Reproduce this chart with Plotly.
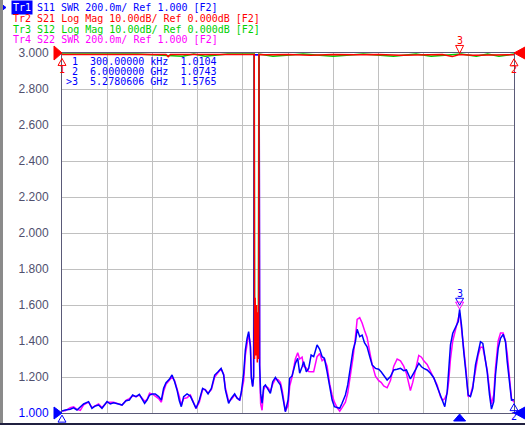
import plotly.graph_objects as go

# ---------------- data ----------------
freq_ghz = [0.0003, 0.044, 0.110, 0.154, 0.199, 0.243, 0.287, 0.353, 0.398, 0.442,
            0.486, 0.531, 0.598, 0.641, 0.685, 0.752, 0.797, 0.850, 0.894, 0.938,
            0.983, 1.027, 1.062, 1.097, 1.129, 1.163, 1.203, 1.239, 1.283, 1.319,
            1.349, 1.381, 1.425, 1.461, 1.495, 1.527, 1.558, 1.584, 1.615, 1.660,
            1.704, 1.734, 1.780, 1.823, 1.867, 1.903, 1.939, 1.983, 2.027, 2.072,
            2.112, 2.146, 2.169, 2.212, 2.248, 2.292, 2.324, 2.359, 2.381, 2.412,
            2.434, 2.457, 2.478, 2.501, 2.514, 2.531, 2.544, 2.551, 2.617, 2.624,
            2.637, 2.656, 2.677, 2.700, 2.736, 2.766, 2.797, 2.833, 2.868, 2.899,
            2.922, 2.948, 2.965, 3.001, 3.023, 3.054, 3.089, 3.098, 3.129, 3.155,
            3.187, 3.208, 3.244, 3.275, 3.307, 3.341, 3.386, 3.421, 3.453, 3.483,
            3.519, 3.554, 3.586, 3.616, 3.652, 3.687, 3.718, 3.762, 3.793, 3.829,
            3.864, 3.895, 3.918, 3.952, 3.984, 4.015, 4.050, 4.085, 4.117, 4.161,
            4.204, 4.236, 4.271, 4.316, 4.360, 4.404, 4.449, 4.493, 4.536, 4.572,
            4.625, 4.656, 4.692, 4.736, 4.772, 4.802, 4.847, 4.891, 4.935, 4.980,
            5.024, 5.054, 5.081, 5.113, 5.134, 5.157, 5.187, 5.223, 5.259, 5.2780606,
            5.303, 5.333, 5.365, 5.392, 5.422, 5.453, 5.489, 5.524, 5.555, 5.586,
            5.621, 5.644, 5.675, 5.701, 5.731, 5.754, 5.790, 5.821, 5.856, 5.887,
            5.910, 5.940, 5.967, 6.000]

s11_swr = [1.0104, 1.017, 1.021, 1.029, 1.017, 1.032, 1.050, 1.063, 1.026, 1.039,
           1.044, 1.026, 1.063, 1.050, 1.057, 1.050, 1.044, 1.068, 1.072, 1.100,
           1.091, 1.104, 1.082, 1.054, 1.072, 1.100, 1.106, 1.106, 1.091, 1.072,
           1.137, 1.168, 1.187, 1.211, 1.174, 1.128, 1.068, 1.035, 1.091, 1.106,
           1.094, 1.063, 1.026, 1.072, 1.137, 1.128, 1.106, 1.137, 1.211, 1.229,
           1.248, 1.211, 1.128, 1.054, 1.082, 1.106, 1.082, 1.072, 1.118, 1.221,
           1.350, 1.415, 1.452, 1.368, 1.193, 1.146, 1.202, 2.990, 2.990, 1.267,
           1.109, 1.054, 1.146, 1.156, 1.128, 1.109, 1.174, 1.198, 1.174, 1.156,
           1.109, 1.044, 1.007, 1.072, 1.193, 1.206, 1.267, 1.276, 1.304, 1.221,
           1.257, 1.285, 1.229, 1.248, 1.322, 1.313, 1.378, 1.354, 1.313, 1.304,
           1.229, 1.137, 1.072, 1.035, 1.032, 1.026, 1.054, 1.100, 1.156, 1.257,
           1.350, 1.396, 1.465, 1.424, 1.433, 1.391, 1.368, 1.313, 1.267, 1.248,
           1.243, 1.229, 1.211, 1.183, 1.202, 1.239, 1.243, 1.248, 1.235, 1.239,
           1.189, 1.211, 1.239, 1.276, 1.257, 1.248, 1.239, 1.221, 1.196, 1.146,
           1.100, 1.072, 1.035, 1.118, 1.248, 1.378, 1.443, 1.471, 1.507, 1.5765,
           1.489, 1.341, 1.211, 1.100, 1.091, 1.137, 1.267, 1.341, 1.396, 1.387,
           1.304, 1.229, 1.100, 1.022, 1.063, 1.211, 1.359, 1.415, 1.437, 1.396,
           1.285, 1.156, 1.072, 1.0743]

s22_swr = [1.012, 1.012, 1.030, 1.035, 1.020, 1.015, 1.045, 1.060, 1.030, 1.040,
           1.050, 1.030, 1.060, 1.060, 1.060, 1.050, 1.045, 1.070, 1.080, 1.095,
           1.090, 1.100, 1.085, 1.065, 1.075, 1.110, 1.105, 1.095, 1.080, 1.060,
           1.120, 1.160, 1.185, 1.200, 1.180, 1.140, 1.090, 1.045, 1.080, 1.085,
           1.100, 1.070, 1.025, 1.060, 1.130, 1.130, 1.110, 1.130, 1.200, 1.225,
           1.245, 1.215, 1.140, 1.065, 1.075, 1.100, 1.085, 1.070, 1.110, 1.180,
           1.320, 1.400, 1.440, 1.380, 1.200, 1.150, 1.200, 2.990, 2.990, 1.250,
           1.050, 1.015, 1.130, 1.150, 1.140, 1.120, 1.160, 1.190, 1.185, 1.170,
           1.130, 1.060, 1.010, 1.040, 1.150, 1.200, 1.280, 1.300, 1.335, 1.300,
           1.310, 1.260, 1.250, 1.230, 1.229, 1.229, 1.313, 1.330, 1.290, 1.300,
           1.260, 1.160, 1.100, 1.060, 1.030, 1.010, 1.030, 1.060, 1.110, 1.200,
           1.310, 1.420, 1.520, 1.530, 1.500, 1.460, 1.420, 1.340, 1.270, 1.205,
           1.180, 1.170, 1.150, 1.140, 1.180, 1.260, 1.300, 1.290, 1.260, 1.220,
           1.125, 1.170, 1.240, 1.320, 1.310, 1.290, 1.270, 1.230, 1.190, 1.155,
           1.090, 1.070, 1.080, 1.110, 1.180, 1.300, 1.400, 1.460, 1.520, 1.555,
           1.470, 1.370, 1.230, 1.090, 1.100, 1.150, 1.230, 1.320, 1.365, 1.365,
           1.290, 1.240, 1.130, 1.050, 1.100, 1.250, 1.400, 1.444, 1.444, 1.400,
           1.330, 1.200, 1.080, 1.060]

s21_freq = [0.0003, 0.30, 0.60, 0.90, 1.20, 1.38, 1.41, 1.44, 1.80, 2.10,
            2.40, 2.552, 2.556, 2.564, 2.573, 2.583, 2.593, 2.602, 2.610, 2.614,
            2.70, 3.00, 3.30, 3.60, 3.90, 4.20, 4.50, 4.80, 5.05, 5.18,
            5.278, 5.45, 5.70, 6.00]
s21_db = [-0.4, -0.4, -0.4, -0.4, -0.4, -0.4, -1.0, -0.4, -0.4, -0.4,
          -0.4, -0.4, -85.0, -68.0, -84.0, -70.0, -86.0, -72.0, -85.0, -0.4,
          -0.5, -0.4, -0.6, -0.4, -0.5, -0.4, -0.6, -0.5, -0.4, -1.0,
          -0.4, -0.6, -0.5, -0.5]

s12_freq = [0.0003, 0.50, 1.00, 1.60, 1.75, 1.90, 2.20, 2.45, 2.552, 2.557,
            2.562, 2.569, 2.578, 2.589, 2.598, 2.607, 2.613, 2.80, 3.20, 3.60,
            4.00, 4.40, 4.70, 4.90, 5.30, 5.50, 5.65, 5.80, 5.95, 6.00]
s12_db = [-0.3, -0.3, -0.3, -0.9, -0.3, -0.9, -0.3, -0.3, -0.3, -76.0,
          -80.0, -75.0, -81.0, -77.0, -82.0, -78.0, -0.3, -0.9, -0.3, -0.9,
          -0.3, -0.9, -0.3, -0.9, -0.3, -0.9, -0.3, -0.9, -0.3, -0.3]

marker_freq = [0.0003, 6.0, 5.2780606]          # GHz
marker_s11 = [1.0104, 1.0743, 1.5765]
marker_s21 = [-0.4, -0.5, -0.4]
marker_s22_3 = 1.555

swr_ticks = [1.0, 1.2, 1.4, 1.6, 1.8, 2.0, 2.2, 2.4, 2.6, 2.8, 3.0]

trace_ids = ["Tr1", "Tr2", "Tr3", "Tr4"]
trace_params = ["S11", "S21", "S12", "S22"]
trace_formats = ["SWR", "Log Mag", "Log Mag", "SWR"]
trace_scales = ["200.0m/", "10.00dB/", "10.00dB/", "200.0m/"]
trace_refs = ["Ref 1.000", "Ref 0.000dB", "Ref 0.000dB", "Ref 1.000"]

# ---------------- style ----------------
BLUE, RED, GREEN, MAG = "#0000ff", "#ff0000", "#00d000", "#ff00ff"
trace_colors = [BLUE, RED, GREEN, MAG]
GRID = "#c0c0c0"
AXIS = "#5a5a78"
LBL = "#50506e"
MONO = "DejaVu Sans Mono"

X0, X1 = 0.0003, 6.0
Y0, Y1 = 1.0, 3.0
D0, D1 = -100.0, 0.0

L, T, W, H = 62, 53, 452, 360
def px(x):
    return (x - L) / W
def py(y):
    return (T + H - y) / H
def fx(f):
    return (f - X0) / (X1 - X0)
def fy(v):
    return (v - Y0) / (Y1 - Y0)
def fd(d):
    return (d - D0) / (D1 - D0)

fig = go.Figure()
fig.add_trace(go.Scatter(x=freq_ghz, y=s22_swr, mode="lines",
                         line=dict(color=MAG, width=1.5)))
fig.add_trace(go.Scatter(x=freq_ghz, y=s11_swr, mode="lines",
                         line=dict(color=BLUE, width=1.5)))
fig.add_trace(go.Scatter(x=s12_freq, y=s12_db, yaxis="y2", mode="lines",
                         line=dict(color=GREEN, width=1.5)))
fig.add_trace(go.Scatter(x=s21_freq, y=s21_db, yaxis="y2", mode="lines",
                         line=dict(color=RED, width=1.5)))

grid_x = [X0 + i * (X1 - X0) / 10 for i in range(11)]
tick_text = []
for v in swr_ticks:
    s = f"{v:.3f}"
    if v == Y0:
        s = f"<span style='color:{BLUE}'>{s}</span>"
    tick_text.append(s)

fig.update_layout(
    width=525, height=425, autosize=False,
    margin=dict(l=L, r=525 - L - W, t=T, b=425 - T - H, pad=0, autoexpand=False),
    paper_bgcolor="white", plot_bgcolor="white",
    showlegend=False,
    xaxis=dict(range=[X0, X1], tickvals=grid_x, showticklabels=False,
               showgrid=True, gridcolor=GRID, gridwidth=1, zeroline=False,
               showline=True, mirror=True, linecolor=AXIS, linewidth=1, ticks="",
               automargin=False),
    yaxis=dict(range=[Y0, Y1], tickvals=swr_ticks, ticktext=tick_text,
               showgrid=True, gridcolor=GRID, gridwidth=1, zeroline=False,
               showline=True, mirror=True, linecolor=AXIS, linewidth=1, ticks="",
               tickfont=dict(family="Liberation Sans", size=12, color=LBL),
               ticklabelstandoff=10, automargin=False),
    yaxis2=dict(range=[D0, D1], overlaying="y", side="right", visible=False,
                automargin=False),
)

shapes = []
annots = []

def tri_abs(pts, color, fill=True):
    path = "M " + " L ".join(f"{px(a):.5f},{py(b):.5f}" for a, b in pts) + " Z"
    shapes.append(dict(type="path", xref="paper", yref="paper", path=path,
                       line=dict(color=color, width=1),
                       fillcolor=color if fill else "rgba(0,0,0,0)"))

def tri_at(xa, ya, pts, color, fill=False):
    path = "M " + " L ".join(f"{a},{b}" for a, b in pts) + " Z"
    shapes.append(dict(type="path", xref="paper", yref="paper",
                       xsizemode="pixel", ysizemode="pixel",
                       xanchor=xa, yanchor=ya, path=path,
                       line=dict(color=color, width=1),
                       fillcolor=color if fill else "rgba(0,0,0,0)"))

def label_at(xa, ya, text, color, yshift):
    annots.append(dict(xref="paper", yref="paper", x=xa, y=ya, text=text,
                       showarrow=False, yshift=yshift, xanchor="center",
                       yanchor="middle",
                       font=dict(family=MONO, size=10, color=color)))

DOWN = [(-4, 11), (4, 11), (0, 4)]      # open triangle above point, tip down
UP = [(-4, -11), (4, -11), (0, -4)]     # open triangle below point, tip up

# Tr1 markers
tri_at(fx(marker_freq[2]), fy(marker_s11[2]), DOWN, BLUE)
label_at(fx(marker_freq[2]), fy(marker_s11[2]), "3", BLUE, 16)
tri_at(fx(marker_freq[1]), fy(marker_s11[1]), UP, BLUE)
label_at(fx(marker_freq[1]), fy(marker_s11[1]), "2", BLUE, -17)
tri_at(fx(marker_freq[0]), fy(marker_s11[0]), UP, BLUE)
# Tr4 marker 3
tri_at(fx(marker_freq[2]), fy(marker_s22_3), DOWN, MAG)
# Tr2 markers
tri_at(fx(marker_freq[2]), fd(marker_s21[2]), [(-4, 9), (4, 9), (0, 1)], RED)
label_at(fx(marker_freq[2]), fd(marker_s21[2]), "3", RED, 14)
tri_at(fx(marker_freq[0]), fd(marker_s21[0]), UP, RED)
label_at(fx(marker_freq[0]), fd(marker_s21[0]), "1", RED, -15)
tri_at(fx(marker_freq[1]), fd(marker_s21[1]), UP, RED)
label_at(fx(marker_freq[1]), fd(marker_s21[1]), "2", RED, -15)

# reference-position indicators
tri_at(0, fd(0.0), [(-8, 7), (-8, -7), (0, 0)], RED, True)
tri_at(0, fy(Y0), [(-8, 6), (-8, -6), (0, 0)], BLUE, True)
tri_at(1, fd(0.0), [(11, 6), (11, -6), (0, 0)], RED, True)
tri_at(1, fy(Y0), [(11, 6), (11, -6), (0, 0)], BLUE, True)
# active marker stimulus indicator
tri_at(fx(marker_freq[2]), 0, [(-6, -8), (6, -8), (0, -1)], BLUE, True)

# header
tri_abs([(0, 3), (6, 7.5), (0, 12)], BLUE)
line_y = [7.5, 18.5, 29.5, 40.0]
for i in range(4):
    rest = f"{trace_params[i]} {trace_formats[i]} {trace_scales[i]} {trace_refs[i]} [F2]"
    if i == 0:
        annots.append(dict(xref="paper", yref="paper", x=px(11), y=py(line_y[i]),
                           text=trace_ids[i], showarrow=False, xanchor="left",
                           yanchor="middle", bgcolor=BLUE, borderpad=1,
                           font=dict(family=MONO, size=10, color="white")))
        txt = rest
        x0 = 36
    else:
        txt = trace_ids[i] + " " + rest
        x0 = 12
    annots.append(dict(xref="paper", yref="paper", x=px(x0 - 1), y=py(line_y[i]),
                       text=txt.replace(" ", "\u00a0"), showarrow=False,
                       xanchor="left", yanchor="middle",
                       font=dict(family=MONO, size=10, color=trace_colors[i])))

# marker readout
ro_y = [61.7, 71.7, 81.7]
for i in range(3):
    f = marker_freq[i]
    if f < 0.001:
        fs = f"{f * 1e6:.5f} kHz"
    else:
        fs = f"{f:.7f} GHz"
    prefix = ">" if i == 2 else " "
    txt = f"{prefix}{i + 1}  {fs}  {marker_s11[i]:.4f}"
    annots.append(dict(xref="paper", yref="paper", x=px(64), y=py(ro_y[i]),
                       text=txt.replace(" ", "\u00a0"), showarrow=False,
                       xanchor="left", yanchor="middle",
                       font=dict(family=MONO, size=10, color=BLUE)))

# window frame
shapes.append(dict(type="rect", xref="paper", yref="paper",
                   x0=px(0), x1=px(3), y0=py(425), y1=py(0),
                   line=dict(width=0), fillcolor="#8a8a8a"))
shapes.append(dict(type="line", xref="paper", yref="paper",
                   x0=px(0), x1=px(525), y0=py(424), y1=py(424),
                   line=dict(color="#202040", width=2)))

fig.update_layout(shapes=shapes, annotations=annots)
fig.write_html("out.html", config={"displayModeBar": False},
               post_script="document.body.style.margin='0';"
                           "document.documentElement.style.overflow='hidden';"
                           "document.body.style.overflow='hidden';")
